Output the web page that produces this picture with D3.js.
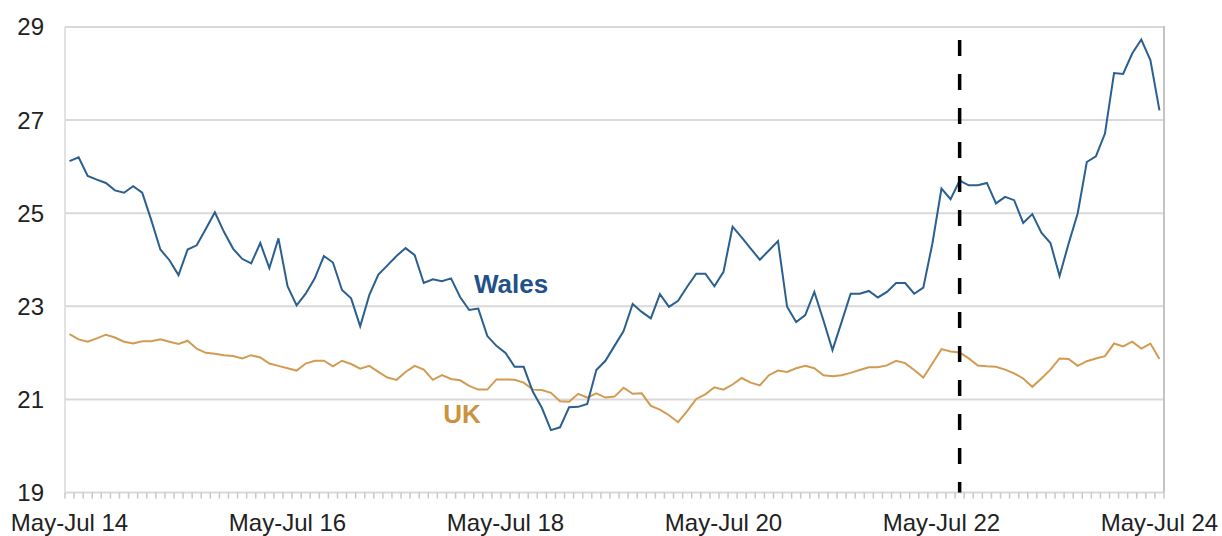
<!DOCTYPE html>
<html>
<head>
<meta charset="utf-8">
<script src="https://cdn.jsdelivr.net/npm/d3@7"></script>
<style>
  body { margin: 0; background: #fff; }
  svg { display: block; font-family: "Liberation Sans", Arial, sans-serif; }
</style>
</head>
<body>
<svg width="1222" height="536"></svg>
<script>
// data
const monthNames = ["Jan", "Feb", "Mar", "Apr", "May", "Jun", "Jul", "Aug", "Sep", "Oct", "Nov", "Dec"];

// rolling three-month periods, May-Jul 14 .. May-Jul 24
const periods = [];
for (let i = 0; i < 121; i++) {
    const m = 4 + i;
    const yr = 14 + Math.floor((m + 2) / 12);
    periods.push(monthNames[m % 12] + "-" + monthNames[(m + 2) % 12] + " " + yr);
}

const xTickLabels = ["May-Jul 14", "May-Jul 16", "May-Jul 18", "May-Jul 20", "May-Jul 22", "May-Jul 24"];
const yTicks = [19, 21, 23, 25, 27, 29];
const markerPeriod = "Jul-Sep 22";

const wales = [
    26.12, 26.20, 25.80, 25.72, 25.65, 25.49, 25.44, 25.58, 25.44, 24.85,
    24.22, 23.99, 23.67, 24.22, 24.31, 24.66, 25.02, 24.60, 24.24, 24.02,
    23.92, 24.36, 23.82, 24.46, 23.43, 23.02, 23.27, 23.60, 24.08, 23.94,
    23.35, 23.17, 22.57, 23.24, 23.68, 23.88, 24.08, 24.25, 24.10, 23.50,
    23.58, 23.54, 23.60, 23.20, 22.92, 22.95, 22.36, 22.15, 22.00, 21.70,
    21.70, 21.17, 20.82, 20.34, 20.40, 20.83, 20.84, 20.90, 21.63, 21.83,
    22.15, 22.47, 23.05, 22.88, 22.74, 23.26, 22.99, 23.12, 23.42, 23.70,
    23.70, 23.43, 23.74, 24.71, 24.48, 24.24, 24.00, 24.20, 24.40, 22.99,
    22.66, 22.81, 23.31, 22.70, 22.06, 22.66, 23.27, 23.27, 23.33, 23.19,
    23.31, 23.50, 23.50, 23.27, 23.40, 24.35, 25.53, 25.30, 25.70, 25.60,
    25.60, 25.65, 25.21, 25.35, 25.28, 24.79, 24.98, 24.58, 24.36, 23.65,
    24.35, 25.00, 26.10, 26.22, 26.71, 28.01, 27.99, 28.43, 28.73, 28.29,
    27.21
];

const uk = [
    22.40, 22.29, 22.24, 22.31, 22.39, 22.33, 22.24, 22.20, 22.25, 22.25,
    22.29, 22.24, 22.19, 22.26, 22.09, 22.00, 21.98, 21.95, 21.93, 21.88,
    21.95, 21.90, 21.77, 21.72, 21.67, 21.62, 21.77, 21.83, 21.83, 21.71,
    21.83, 21.76, 21.66, 21.72, 21.59, 21.47, 21.42, 21.59, 21.72, 21.64,
    21.42, 21.52, 21.44, 21.41, 21.29, 21.21, 21.21, 21.43, 21.43, 21.42,
    21.36, 21.21, 21.20, 21.14, 20.96, 20.95, 21.12, 21.04, 21.13, 21.04,
    21.06, 21.25, 21.12, 21.13, 20.86, 20.78, 20.66, 20.51, 20.75, 21.01,
    21.11, 21.26, 21.21, 21.32, 21.46, 21.36, 21.30, 21.52, 21.62, 21.59,
    21.67, 21.72, 21.67, 21.52, 21.50, 21.52, 21.57, 21.63, 21.69, 21.69,
    21.73, 21.83, 21.78, 21.63, 21.47, 21.77, 22.08, 22.03, 22.01, 21.88,
    21.73, 21.71, 21.70, 21.64, 21.56, 21.45, 21.27, 21.45, 21.64, 21.88,
    21.87, 21.72, 21.82, 21.88, 21.93, 22.20, 22.14, 22.24, 22.09, 22.20,
    21.87
];

// layout
const svg = d3.select("svg");
const plotLeft = 65, plotRight = 1164, plotTop = 27, plotBottom = 492.5;

const x = d3.scaleBand().domain(periods).range([plotLeft, plotRight]);
const y = d3.scaleLinear().domain([19, 29]).range([plotBottom, plotTop]);
const cx = p => x(p) + x.bandwidth() / 2;

// gridlines (the one at 19 doubles as the x axis line)
svg.append("g")
    .selectAll("line")
    .data(yTicks)
    .enter()
    .append("line")
    .attr("x1", plotLeft)
    .attr("x2", plotRight)
    .attr("y1", d => y(d))
    .attr("y2", d => y(d))
    .attr("stroke", "#d9d9d9")
    .attr("stroke-width", 2);

// plot frame sides
svg.append("line")
    .attr("x1", plotLeft).attr("x2", plotLeft)
    .attr("y1", y(29)).attr("y2", y(19))
    .attr("stroke", "#d9d9d9")
    .attr("stroke-width", 1.5);
svg.append("line")
    .attr("x1", plotRight).attr("x2", plotRight)
    .attr("y1", y(29) - 1).attr("y2", y(19))
    .attr("stroke", "#c4c4c4")
    .attr("stroke-width", 2);

// y labels
svg.append("g")
    .selectAll("text")
    .data(yTicks)
    .enter()
    .append("text")
    .attr("x", 44)
    .attr("y", d => y(d))
    .attr("dy", "0.35em")
    .attr("text-anchor", "end")
    .attr("fill", "#222")
    .style("font-size", "24px")
    .text(d => d);

// monthly tick marks on the category boundaries
const boundaries = periods.map(p => x(p)).concat([plotRight]);
svg.append("g")
    .selectAll("line")
    .data(boundaries)
    .enter()
    .append("line")
    .attr("x1", d => d)
    .attr("x2", d => d)
    .attr("y1", plotBottom)
    .attr("y2", plotBottom + 6)
    .attr("stroke", "#c8c8c8")
    .attr("stroke-width", 1.5);

// x labels
svg.append("g")
    .selectAll("text")
    .data(xTickLabels)
    .enter()
    .append("text")
    .attr("x", d => cx(d))
    .attr("y", 531)
    .attr("text-anchor", "middle")
    .attr("fill", "#222")
    .style("font-size", "24px")
    .text(d => d);

// series
const line = d3.line()
    .x((d, i) => cx(periods[i]))
    .y(d => y(d));

svg.append("path")
    .datum(uk)
    .attr("d", line)
    .attr("fill", "none")
    .attr("stroke", "#d19b52")
    .attr("stroke-width", 2);

svg.append("path")
    .datum(wales)
    .attr("d", line)
    .attr("fill", "none")
    .attr("stroke", "#2a5f8f")
    .attr("stroke-width", 2);

// dashed marker
svg.append("line")
    .attr("x1", cx(markerPeriod))
    .attr("x2", cx(markerPeriod))
    .attr("y1", 40)
    .attr("y2", plotBottom)
    .attr("stroke", "#000")
    .attr("stroke-width", 3.5)
    .attr("stroke-dasharray", "16,18");

// series labels
svg.append("text")
    .attr("x", 511)
    .attr("y", 293)
    .attr("text-anchor", "middle")
    .attr("fill", "#1f5288")
    .style("font-size", "26px")
    .style("font-weight", "bold")
    .text("Wales");

svg.append("text")
    .attr("x", 462)
    .attr("y", 423)
    .attr("text-anchor", "middle")
    .attr("fill", "#c99341")
    .style("font-size", "26px")
    .style("font-weight", "bold")
    .text("UK");
</script>
</body>
</html>
